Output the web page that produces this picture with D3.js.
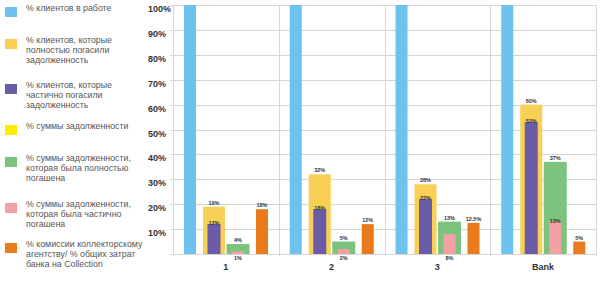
<!DOCTYPE html>
<html>
<head>
<meta charset="utf-8">
<script src="https://cdn.jsdelivr.net/npm/d3@7"></script>
<style>
  body { margin: 0; background: #fff; }
  svg { display: block; font-family: "Liberation Sans", Arial, sans-serif; }
  .grid line { stroke: #d6d6d6; stroke-width: 1; }
  .ylab { font-size: 9px; font-weight: bold; fill: #333; }
  .xlab { font-size: 9px; font-weight: bold; fill: #333; }
  .val { font-size: 5.5px; font-weight: bold; fill: #333; text-anchor: middle; }
  .leg text { font-size: 8.8px; fill: #555; }
</style>
</head>
<body>
<svg width="600" height="282"></svg>
<script>
const categories = ["1", "2", "3", "Bank"];
const clientsInWork = [100, 100, 100, 100];
const clientsFullyPaid = [19, 32, 28, 60];
const clientsPartlyPaid = [12, 18, 22, 53];
const debtFullyPaid = [4, 5, 13, 37];
const debtPartlyPaid = [1, 2, 8, 13];
const commission = [18, 12, 12.5, 5];
const yTicks = [10, 20, 30, 40, 50, 60, 70, 80, 90, 100];

const legendItems = [
  {color: "#6ec2ee", lines: ["% клиентов в работе"]},
  {color: "#f7d055", lines: ["% клиентов, которые", "полностью погасили", "задолженность"]},
  {color: "#6a5ba6", lines: ["% клиентов, которые", "частично погасили", "задолженность"]},
  {color: "#ffee00", lines: ["% суммы задолженности"]},
  {color: "#7cc47e", lines: ["% суммы задолженности,", "которая была полностью", "погашена"]},
  {color: "#f4a1a6", lines: ["% суммы задолженности,", "которая была частично", "погашена"]},
  {color: "#ea7a1b", lines: ["% комиссии коллекторскому", "агентству/ % общих затрат", "банка на Collection"]}
];
const legendY = [7, 39, 84, 125, 157, 203, 243];

const svg = d3.select("svg");

const x = d3.scaleBand().domain(categories).range([173, 596]);
const y = d3.scaleLinear().domain([0, 100]).range([254, 5]);
const slot = d3.scalePoint().domain(["a", "b", "c", "d"]).range([17, 89]);

// grid
const grid = svg.append("g").attr("class", "grid");
grid.selectAll(".h").data([0].concat(yTicks)).enter().append("line")
  .attr("x1", 170).attr("x2", 596)
  .attr("y1", d => Math.round(y(d)) + 0.5).attr("y2", d => Math.round(y(d)) + 0.5);
grid.selectAll(".v").data(categories.concat(["end"])).enter().append("line")
  .attr("x1", (d, i) => Math.round(i < 4 ? x(d) : x.range()[1]) + 0.5)
  .attr("x2", (d, i) => Math.round(i < 4 ? x(d) : x.range()[1]) + 0.5)
  .attr("y1", y(100)).attr("y2", y(0) + 2);

// y labels
svg.selectAll(".ylab").data(yTicks).enter().append("text")
  .attr("class", "ylab")
  .attr("x", 148)
  .attr("y", d => y(d) + 7)
  .text(d => d + "%");

// bars
const rows = categories.map((c, i) => ({c, i}));
const g = svg.selectAll(".grp").data(rows).enter().append("g")
  .attr("transform", d => `translate(${x(d.c)},0)`);

function bars(values, s, w, color) {
  g.append("rect")
    .attr("x", d => slot(s) - w / 2)
    .attr("width", w)
    .attr("y", d => y(values[d.i]))
    .attr("height", d => y(0) - y(values[d.i]))
    .attr("fill", color);
}
function labels(values, s, dy) {
  g.append("text").attr("class", "val")
    .attr("x", d => slot(s))
    .attr("y", d => (typeof dy === "function" ? dy(d) : y(values[d.i]) + dy))
    .text(d => values[d.i] + "%");
}

bars(clientsInWork, "a", 12, legendItems[0].color);
bars(clientsFullyPaid, "b", 22, legendItems[1].color);
bars(clientsPartlyPaid, "b", 13, legendItems[2].color);
bars(debtFullyPaid, "c", 23, legendItems[4].color);
bars(debtPartlyPaid, "c", 12, legendItems[5].color);
bars(commission, "d", 12, legendItems[6].color);

labels(clientsFullyPaid, "b", -2);
labels(clientsPartlyPaid, "b", 1);
labels(debtFullyPaid, "c", -2);
labels(debtPartlyPaid, "c", d => d.c === "Bank" ? y(debtPartlyPaid[d.i]) + 1 : y(0) + 6);
labels(commission, "d", -2);

// x labels
svg.selectAll(".xlab").data(categories).enter().append("text")
  .attr("class", "xlab")
  .attr("x", d => x(d) + x.bandwidth() / 2)
  .attr("y", 270)
  .attr("text-anchor", "middle")
  .text(d => d);

// legend
const leg = svg.selectAll(".leg").data(legendItems).enter().append("g")
  .attr("class", "leg")
  .attr("transform", (d, i) => `translate(0,${legendY[i]})`);
leg.append("rect").attr("x", 5).attr("y", 0).attr("width", 12).attr("height", 10)
  .attr("fill", d => d.color);
leg.selectAll("text").data(d => d.lines).enter().append("text")
  .attr("x", 26)
  .attr("y", (d, j) => 4 + j * 10)
  .text(d => d);
</script>
</body>
</html>
